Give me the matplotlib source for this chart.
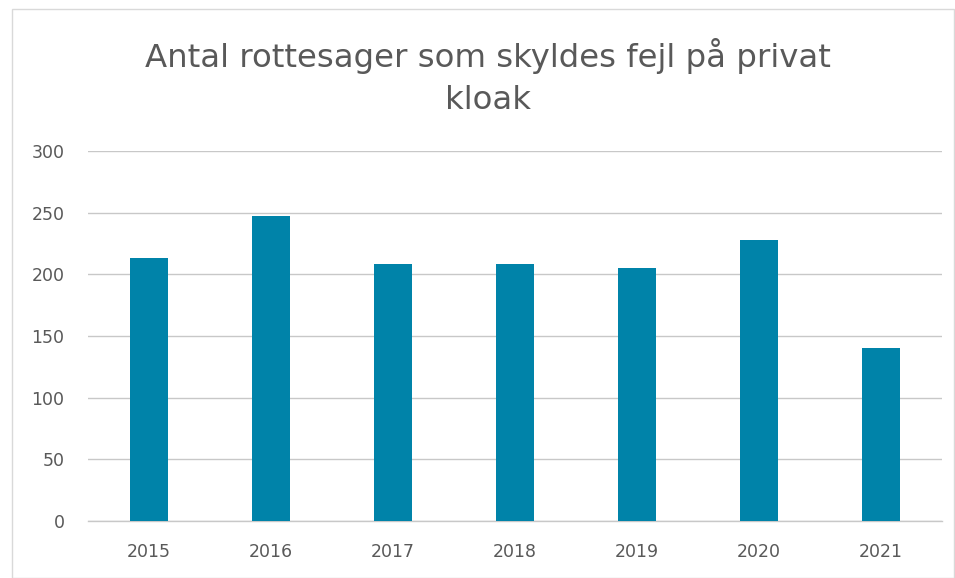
import matplotlib.pyplot as plt
from matplotlib.patches import Rectangle

years = ['2015', '2016', '2017', '2018', '2019', '2020', '2021']
cases = [213, 247, 208, 208, 205, 228, 140]
yticks = [0, 50, 100, 150, 200, 250, 300]

txt = '#595959'
fig = plt.figure(figsize=(9.55, 5.78), dpi=100)
fig.patches.append(Rectangle((12 / 955, 0), 1 - 13 / 955, 1 - 9 / 578,
                             transform=fig.transFigure, fill=False,
                             edgecolor='#d9d9d9', linewidth=1))
ax = fig.add_axes([88 / 955, 57 / 578, 854 / 955, 370 / 578])

ax.bar(range(len(years)), cases, width=0.31, color='#0083a9', zorder=3)
ax.set_xlim(-0.5, len(years) - 0.5)
ax.set_ylim(0, 300)
ax.set_yticks(yticks)
ax.set_xticks(range(len(years)))
ax.set_xticklabels(years)
ax.grid(axis='y', color='#c8c8c8', linewidth=1, zorder=0)
ax.axhline(0, color='#c8c8c8', linewidth=1, zorder=2, clip_on=False)
for s in ax.spines.values():
    s.set_visible(False)
ax.tick_params(length=0, labelsize=12.5, colors=txt)
ax.tick_params(axis='y', pad=17)
ax.tick_params(axis='x', pad=16)

fig.text(488 / 955, 1 - 77 / 578, 'Antal rottesager som skyldes fejl på privat\nkloak',
         ha='center', va='center', fontsize=23.3, color=txt, linespacing=1.42)

fig.savefig('out.png', dpi=100)
